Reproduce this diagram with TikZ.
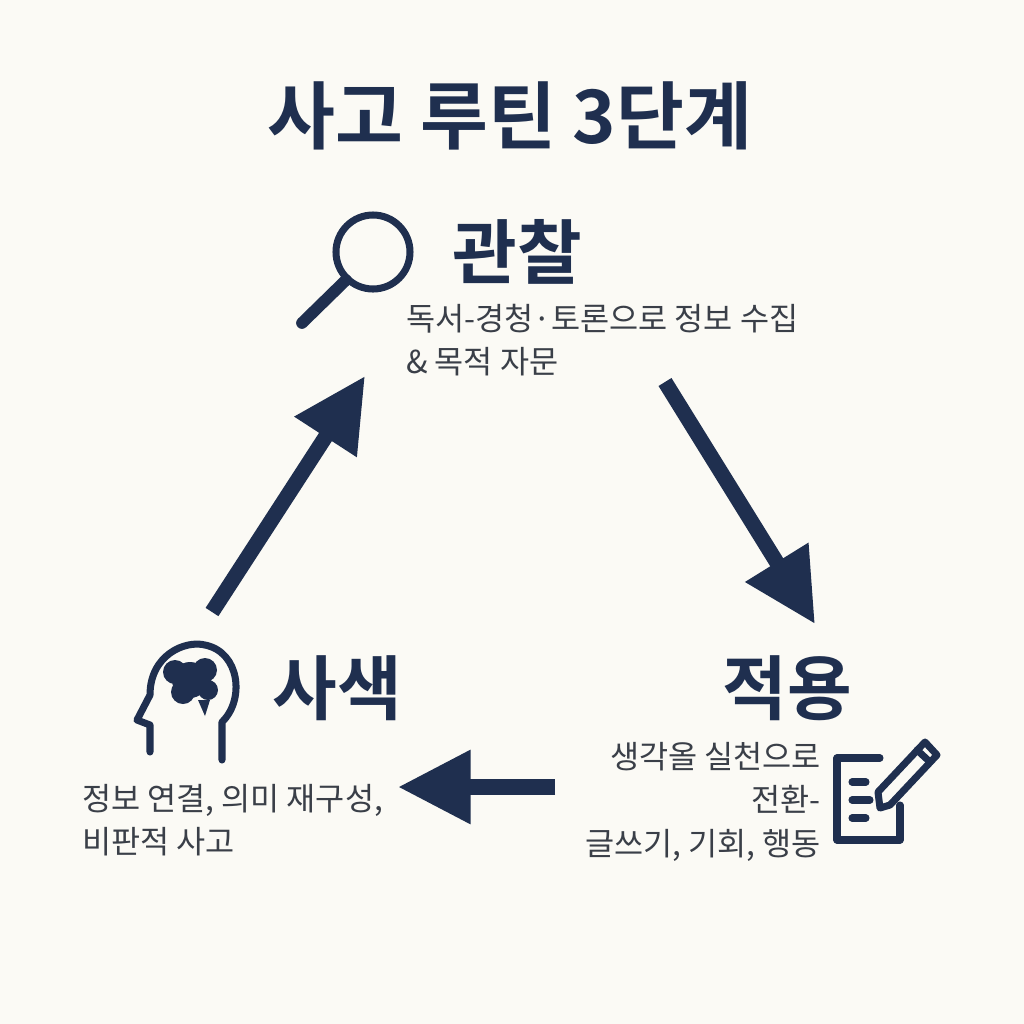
\documentclass[tikz,border=0pt]{standalone}
\usepackage{fontspec}
\newfontfamily\kr{Noto Sans CJK KR}
\newfontfamily\krb{Noto Sans CJK KR Bold}
\usetikzlibrary{arrows.meta}
\definecolor{navy}{HTML}{1F2F4F}
\definecolor{bg}{HTML}{FBFAF5}
\definecolor{txt}{HTML}{3A3F48}
\begin{document}
\begin{tikzpicture}[x=0.03cm,y=-0.03cm,
  title/.style={font=\krb\fontsize{63}{70}\selectfont,text=navy},
  head/.style={font=\krb\fontsize{60}{66}\selectfont,text=navy},
  body/.style={font=\kr\fontsize{27}{37}\selectfont,text=txt},
  bigarrow/.style={navy,line width=13pt,-{Triangle[length=62pt,width=60pt]}},
  icon/.style={navy,line width=6pt,line cap=round,line join=round}]
\fill[bg] (0,0) rectangle (1024,1024);
\useasboundingbox (0,0) rectangle (1024,1024);
\node[title] (t) at (510,116) {사고 루틴 3단계};
\node[head] (o) at (517,252) {관찰};
\node[body,align=left,anchor=north west] (ot) at (402,300) {독서-경청·토론으로 정보 수집\\\& 목적 자문};
\node[head] (a) at (787,688) {적용};
\node[body,align=right,anchor=north east] (at) at (825,738) {생각올 실천으로\\전환-\\글쓰기, 기회, 행동};
\node[head] (s) at (337,688) {사색};
\node[body,align=left,anchor=north west] (st) at (78,780) {정보 연결, 의미 재구성,\\비판적 사고};
% arrows
\coordinate (a1s) at (212,612); \coordinate (a1e) at (365,376);
\coordinate (a2s) at (665,382); \coordinate (a2e) at (815,624);
\coordinate (a3s) at (555,787); \coordinate (a3e) at (398,787);
\draw[bigarrow] (a1s) -- (a1e);
\draw[bigarrow] (a2s) -- (a2e);
\draw[bigarrow] (a3s) -- (a3e);
% magnifier
\draw[icon] (373,252) circle (37);
\draw[navy,line width=10pt,line cap=round] (346,280) -- (302,323);
% head icon
\draw[icon] (150,752) -- (150,725) -- (137,720) -- (150,695) .. controls (150,655) and (185,640) .. (205,645) .. controls (240,652) and (245,700) .. (222,722) -- (222,760);
\fill[navy] (190,680) circle (18) (175,672) circle (12) (205,670) circle (12) (183,692) circle (12) (208,690) circle (10);
\fill[navy] (198,700) -- (210,700) -- (205,716) -- cycle;
% paper + pencil icon
\draw[icon] (900,805) -- (900,840) -- (837,840) -- (837,758) -- (880,758);
\draw[icon] (852,782) -- (866,782) (852,800) -- (870,800) (852,818) -- (866,818);
\draw[icon] (880,808) -- (878,792) -- (925,742) -- (937,755) -- (890,805) -- cycle;
\draw[icon] (917,750) -- (930,762);
\end{tikzpicture}
\end{document}
